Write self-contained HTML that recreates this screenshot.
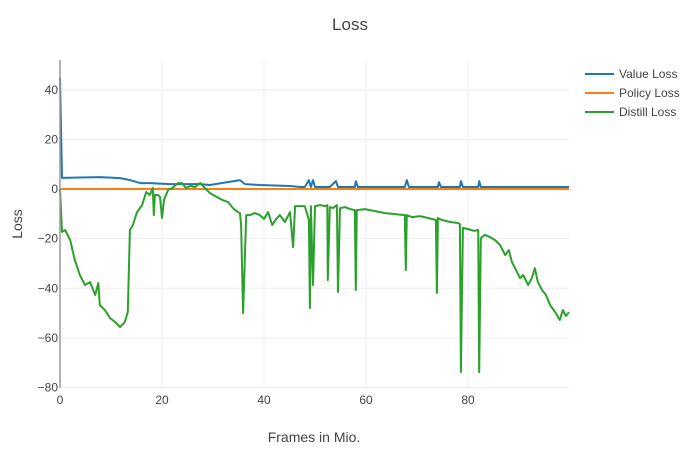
<!DOCTYPE html>
<html><head><meta charset="utf-8"><style>
body{margin:0;background:#fff;font-family:"Liberation Sans",Arial,sans-serif}
svg text{font-family:"Liberation Sans",Arial,sans-serif;fill:#444}
</style></head><body>
<svg id="chart" width="700" height="450">
<text x="350" y="30" text-anchor="middle" font-size="17">Loss</text>
<g id="grid"></g><g id="series"></g><g id="axes"></g>
<text x="314" y="442" text-anchor="middle" font-size="14">Frames in Mio.</text>
<text transform="translate(22,224) rotate(-90)" text-anchor="middle" font-size="14">Loss</text>
<g id="legend"></g>
</svg>
<script>
const xTicks=[0,20,40,60,80];
const yTicks=[-80,-60,-40,-20,0,20,40];
const seriesNames=["Value Loss","Policy Loss","Distill Loss"];
const valueX=[0,0.4,7.8,11.8,13.7,15.7,17.6,21.6,27.5,29.4,35.3,36.3,39.2,45.1,47.1,48.0,48.8,49.2,49.6,50.0,52.9,54.1,54.5,57.8,58.0,58.4,67.6,68.0,68.4,74.1,74.3,74.7,78.4,78.6,79.0,82.0,82.2,82.5,99.8];
const valueY=[45,4.5,4.8,4.4,3.6,2.4,2.4,2.0,2.0,1.6,3.6,2.0,1.6,1.2,0.8,0.8,3.6,0.8,3.6,0.8,0.8,3.2,0.8,0.8,3.2,0.8,0.8,3.6,0.8,0.8,2.8,0.8,0.8,3.2,0.8,0.8,3.2,0.8,0.8];
const policyX=[0,99.8];
const policyY=[0,0];
const distillX=[0,0.4,1.0,2.0,2.9,3.9,4.9,5.9,6.9,7.5,7.8,8.8,9.8,10.8,11.8,12.7,13.3,13.7,14.3,15.1,16.1,16.9,17.6,18.2,18.4,18.6,19.2,19.6,20.0,20.4,21.2,22.0,23.1,23.9,24.7,25.5,26.5,27.5,28.4,29.4,30.4,31.8,32.9,34.1,34.9,35.3,35.5,35.9,36.5,37.3,38.2,39.2,40.0,40.8,41.6,42.4,43.1,44.1,45.1,45.7,46.1,47.1,48.0,48.8,49.0,49.2,49.6,50.0,51.0,52.0,52.4,52.5,52.9,53.5,54.3,54.5,54.9,55.9,56.9,57.8,58.0,58.2,59.8,61.8,63.7,65.7,67.6,67.8,68.0,69.0,70.6,72.2,73.7,73.9,74.1,74.9,76.5,78.0,78.4,78.6,79.0,80.0,81.2,82.0,82.2,82.5,83.3,84.3,85.3,86.3,87.3,88.0,88.6,89.4,90.2,90.8,91.8,92.5,93.1,93.7,94.5,95.3,96.1,97.1,98.0,98.6,99.2,99.8];
const distillY=[0,-17.3,-16.5,-20.6,-28.6,-34.7,-38.7,-37.5,-42.7,-37.9,-46.8,-48.8,-52,-53.6,-55.6,-53.6,-49.6,-16.5,-14.5,-9.3,-6.5,-1.2,-2.4,0.4,-10.5,-2.4,-2.4,-3.2,-11.7,-4.4,-0.4,0.4,2.4,2.4,0.4,1.2,0.8,2.4,0.4,-1.6,-2.8,-4.4,-5.2,-8.1,-9.3,-9.7,-14.5,-50,-10.5,-10.5,-9.7,-10.5,-12.1,-9.3,-14.5,-12.1,-10.5,-13.3,-9.3,-23.4,-6.9,-6.9,-6.9,-12.5,-48,-6.9,-38.7,-6.9,-6.5,-6.9,-6.5,-36.7,-7.3,-7.7,-6.5,-41.5,-7.7,-7.3,-8.1,-8.5,-40.7,-8.5,-8.1,-8.9,-9.7,-10.1,-10.5,-32.7,-10.5,-11.3,-10.9,-11.7,-12.5,-41.9,-11.7,-12.5,-13.3,-13.7,-14.1,-73.8,-15.7,-16.1,-16.9,-16.5,-73.8,-19.8,-18.5,-19.4,-20.6,-22.6,-26.6,-24.6,-29.4,-32.7,-35.9,-34.7,-38.7,-35.9,-31.9,-37.5,-40.7,-42.7,-46.8,-49.6,-52.8,-48.8,-51.2,-49.6];
const colors=["#1f77b4","#ff7f0e","#2ca02c"];
const L=60,R=569,T=60,B=388,xMin=0,xMax=99.8,yMin=-80.2,yMax=52;
const sx=v=>L+(v-xMin)/(xMax-xMin)*(R-L);
const sy=v=>B-(v-yMin)/(yMax-yMin)*(B-T);
const NS="http://www.w3.org/2000/svg";
function mk(tag,attrs,parent){const e=document.createElementNS(NS,tag);for(const k in attrs)e.setAttribute(k,attrs[k]);parent.appendChild(e);return e;}
const grid=document.getElementById('grid'),axes=document.getElementById('axes'),ser=document.getElementById('series'),leg=document.getElementById('legend');
xTicks.forEach(t=>{
 const g=mk('line',{x1:sx(t),x2:sx(t),y1:T,y2:B,stroke:'#eee','stroke-width':1},grid);
 
 
 const tx=mk('text',{x:sx(t),y:B+16,'text-anchor':'middle','font-size':12},axes);tx.textContent=t;
 
 
});
yTicks.forEach(t=>{
 const g=mk('line',{x1:L,x2:R,y1:sy(t),y2:sy(t),stroke:t===0?'#444':'#eee','stroke-width':t===0?1:1},grid);
 
 
 const tx=mk('text',{x:L-2,y:sy(t)+4,'text-anchor':'end','font-size':12},axes);tx.textContent=(t<0?'\u2212'+(-t):t);
 
 
});
const ax=mk('line',{x1:L,x2:L,y1:T,y2:B,stroke:'#999','stroke-width':1.5},axes);


const all=[[valueX,valueY],[policyX,policyY],[distillX,distillY]];
all.forEach((s,i)=>{
 const d=s[0].map((x,j)=>(j?'L':'M')+sx(x).toFixed(1)+','+sy(s[1][j]).toFixed(1)).join('');
 const p=mk('path',{d:d,fill:'none',stroke:colors[i],'stroke-width':2,'stroke-linejoin':'round'},ser);
 
 
});
seriesNames.forEach((n,i)=>{
 const g=mk('g',{},leg);
 
 
 const y=74+i*19;
 mk('line',{x1:585,x2:614,y1:y,y2:y,stroke:colors[i],'stroke-width':2},g);
 const t=mk('text',{x:619,y:y+4,'font-size':12},g);t.textContent=n;
});
</script>
</body></html>
